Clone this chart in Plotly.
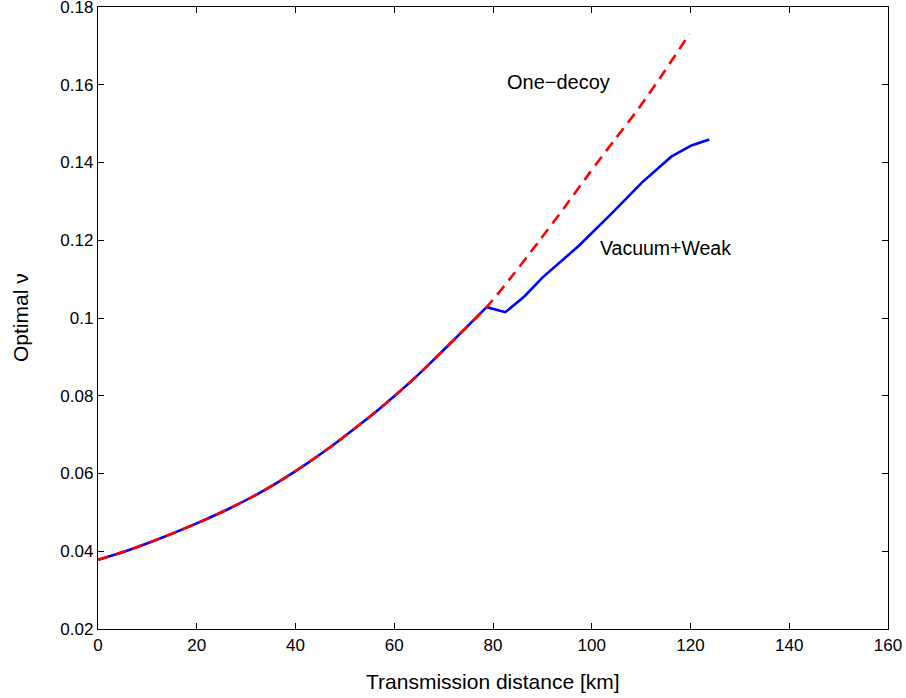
import plotly.graph_objects as go

# Shared low-distance part (both protocols coincide)
x_common = [0, 6.0, 12.8, 19.5, 26.3, 33.0, 39.0, 42.8, 47.5, 51.6, 56.3, 60.4, 64.6, 68.5, 73.2, 78.7]
y_common = [0.0378, 0.0402, 0.0434, 0.0469, 0.0508, 0.0552, 0.0598, 0.0630,
            0.0672, 0.0712, 0.0759, 0.0803, 0.0851, 0.0899, 0.0958, 0.1028]

# Vacuum+Weak beyond the kink
x_vw_tail = [82.5, 86.4, 90.0, 97.5, 104.2, 110.2, 116.1, 120.2, 123.8]
y_vw_tail = [0.1015, 0.1056, 0.1104, 0.1187, 0.1271, 0.1349, 0.1415, 0.1444, 0.1459]

# One-decoy beyond 79 km
x_od_tail = [84, 89.4, 94.5, 99.5, 104.5, 109.6, 114.7, 119.8]
y_od_tail = [0.1110, 0.1199, 0.1285, 0.1372, 0.1456, 0.1541, 0.1634, 0.1731]

x_ticks = [0, 20, 40, 60, 80, 100, 120, 140, 160]
y_ticks = [0.02, 0.04, 0.06, 0.08, 0.1, 0.12, 0.14, 0.16, 0.18]
y_tick_text = ["0.02", "0.04", "0.06", "0.08", "0.1", "0.12", "0.14", "0.16", "0.18"]

label_one = "One\u2212decoy"
label_vw = "Vacuum+Weak"
x_title = "Transmission distance [km]"
y_title = "Optimal \u03bd"

FONT = "Liberation Sans, Arial, Helvetica, sans-serif"

fig = go.Figure()
# Vacuum+Weak: smooth common part + piecewise tail
fig.add_trace(go.Scatter(x=x_common, y=y_common, mode="lines",
                         line=dict(color="#0000ff", width=2.6, shape="spline", smoothing=0.8),
                         name=label_vw))
fig.add_trace(go.Scatter(x=x_common[-1:] + x_vw_tail, y=y_common[-1:] + y_vw_tail, mode="lines",
                         line=dict(color="#0000ff", width=2.6), name=label_vw))
# One-decoy
fig.add_trace(go.Scatter(x=x_common + x_od_tail, y=y_common + y_od_tail, mode="lines",
                         line=dict(color="#ff0000", width=2.6, dash="11px,7px",
                                   shape="spline", smoothing=0.8),
                         name=label_one))

fig.add_annotation(x=93.3, y=0.1608, text=label_one, showarrow=False,
                   font=dict(size=20, color="black", family=FONT))
fig.add_annotation(x=115.0, y=0.1181, text=label_vw, showarrow=False,
                   font=dict(size=19.5, color="black", family=FONT))

# Axis titles
fig.add_annotation(x=0.5, y=0, xref="paper", yref="paper", text=x_title, showarrow=False,
                   xanchor="center", yanchor="middle", yshift=-52,
                   font=dict(size=21, color="black", family=FONT))
fig.add_annotation(x=0, y=0.5, xref="paper", yref="paper", text=y_title, showarrow=False,
                   xanchor="center", yanchor="middle", xshift=-78, textangle=-90,
                   font=dict(size=21, color="black", family=FONT))

axis_common = dict(showline=True, linecolor="black", linewidth=1.3, mirror="ticks",
                   ticks="inside", ticklen=6, tickcolor="black", tickwidth=1, showgrid=False,
                   zeroline=False, automargin=False, ticklabeloverflow="allow",
                   tickfont=dict(size=17, color="black", family=FONT))

fig.update_layout(
    width=906, height=698,
    margin=dict(l=98, r=18, t=7, b=69),
    paper_bgcolor="white", plot_bgcolor="white",
    showlegend=False,
    font=dict(family=FONT, color="black"),
    xaxis=dict(range=[0, 160], tickvals=x_ticks, **axis_common),
    yaxis=dict(range=[0.02, 0.18], tickvals=y_ticks, ticktext=y_tick_text, **axis_common),
)

fig.write_html("out.html", config={"displayModeBar": False},
               post_script="document.body.style.margin='0';document.body.style.overflow='hidden';")
